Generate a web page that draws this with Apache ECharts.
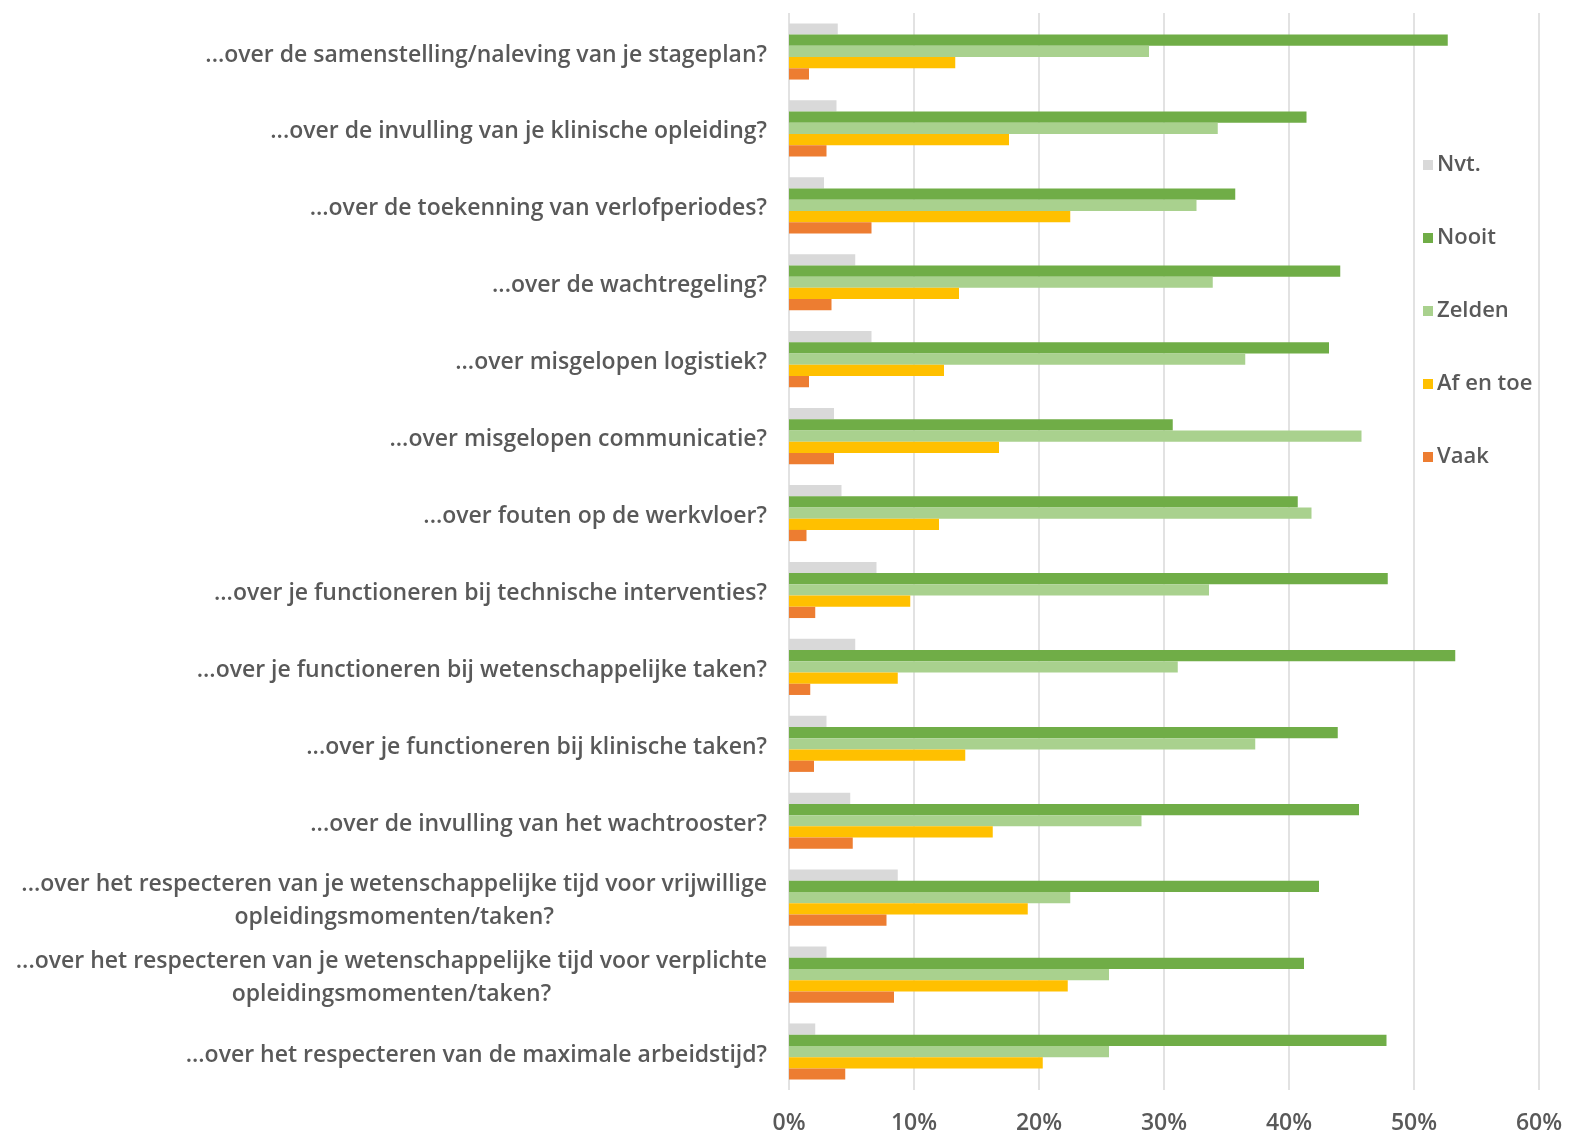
<!DOCTYPE html>
<html>
<head>
<meta charset="utf-8">
<script src="https://cdn.jsdelivr.net/npm/echarts@6/dist/echarts.min.js"></script>
<style>
  html, body { margin: 0; padding: 0; background: #ffffff; }
  #chart { width: 1569px; height: 1135px; }
</style>
</head>
<body>
<div id="chart"></div>
<script>
// Vragen (van boven naar onder)
const categories = [
  '...over de samenstelling/naleving van je stageplan?',
  '...over de invulling van je klinische opleiding?',
  '...over de toekenning van verlofperiodes?',
  '...over de wachtregeling?',
  '...over misgelopen logistiek?',
  '...over misgelopen communicatie?',
  '...over fouten op de werkvloer?',
  '...over je functioneren bij technische interventies?',
  '...over je functioneren bij wetenschappelijke taken?',
  '...over je functioneren bij klinische taken?',
  '...over de invulling van het wachtrooster?',
  '...over het respecteren van je wetenschappelijke tijd voor vrijwillige\nopleidingsmomenten/taken?',
  '...over het respecteren van je wetenschappelijke tijd voor verplichte\nopleidingsmomenten/taken?',
  '...over het respecteren van de maximale arbeidstijd?'
];

// Percentages per antwoordcategorie
const nvt     = [3.9, 3.8, 2.8, 5.3, 6.6, 3.6, 4.2, 7.0, 5.3, 3.0, 4.9, 8.7, 3.0, 2.1];
const nooit   = [52.7, 41.4, 35.7, 44.1, 43.2, 30.7, 40.7, 47.9, 53.3, 43.9, 45.6, 42.4, 41.2, 47.8];
const zelden  = [28.8, 34.3, 32.6, 33.9, 36.5, 45.8, 41.8, 33.6, 31.1, 37.3, 28.2, 22.5, 25.6, 25.6];
const afEnToe = [13.3, 17.6, 22.5, 13.6, 12.4, 16.8, 12.0, 9.7, 8.7, 14.1, 16.3, 19.1, 22.3, 20.3];
const vaak    = [1.6, 3.0, 6.6, 3.4, 1.6, 3.6, 1.4, 2.1, 1.7, 2.0, 5.1, 7.8, 8.4, 4.5];

const xTicks = [0, 10, 20, 30, 40, 50, 60];

const seriesDefs = [
  { name: 'Nvt.',      data: nvt,     color: '#d9d9d9' },
  { name: 'Nooit',     data: nooit,   color: '#70ad47' },
  { name: 'Zelden',    data: zelden,  color: '#a9d18e' },
  { name: 'Af en toe', data: afEnToe, color: '#ffc000' },
  { name: 'Vaak',      data: vaak,    color: '#ed7d31' }
];

const FONT = '"Open Sans", "Liberation Sans", Arial, sans-serif';
const TEXT = '#595959';
const WEIGHT = 600;
const SIZE = 23;

const chart = echarts.init(document.getElementById('chart'), null, { renderer: 'canvas' });

chart.setOption({
  animation: false,
  backgroundColor: '#ffffff',
  textStyle: { fontFamily: FONT, color: TEXT, fontWeight: WEIGHT },
  grid: { left: 789, right: 30, top: 13, bottom: 45, containLabel: false },
  legend: {
    orient: 'vertical',
    left: 1418,
    top: 148,
    itemWidth: 10,
    itemHeight: 10,
    itemGap: 49,
    icon: 'rect',
    textStyle: { fontFamily: FONT, fontSize: 22, fontWeight: WEIGHT, color: TEXT, lineHeight: 24, padding: [0, 0, 0, -1] },
    data: seriesDefs.map(s => s.name)
  },
  xAxis: {
    type: 'value',
    min: xTicks[0],
    max: xTicks[xTicks.length - 1],
    interval: 10,
    axisLine: { show: false },
    axisTick: { show: false },
    splitLine: { show: true, lineStyle: { color: '#d9d9d9', width: 1.5 } },
    axisLabel: {
      formatter: v => v + '%',
      fontFamily: FONT,
      fontSize: SIZE,
      fontWeight: WEIGHT,
      color: TEXT,
      margin: 22
    }
  },
  yAxis: {
    type: 'category',
    inverse: true,
    data: categories,
    axisLine: { show: false },
    axisTick: { show: false },
    axisLabel: {
      margin: 22,
      align: 'right',
      fontFamily: FONT,
      fontSize: SIZE,
      fontWeight: WEIGHT,
      color: TEXT,
      lineHeight: 33,
      padding: [7, 0, 0, 0],
      formatter: v => v.split('\n').map(l => '{c|' + l + '}').join('\n'),
      rich: {
        c: { align: 'center', fontFamily: FONT, fontSize: SIZE, fontWeight: WEIGHT, color: TEXT, lineHeight: 33 }
      }
    }
  },
  series: seriesDefs.map(s => ({
    name: s.name,
    type: 'bar',
    data: s.data,
    barGap: '0%',
    barCategoryGap: '27%',
    itemStyle: { color: s.color }
  }))
});
</script>
</body>
</html>
